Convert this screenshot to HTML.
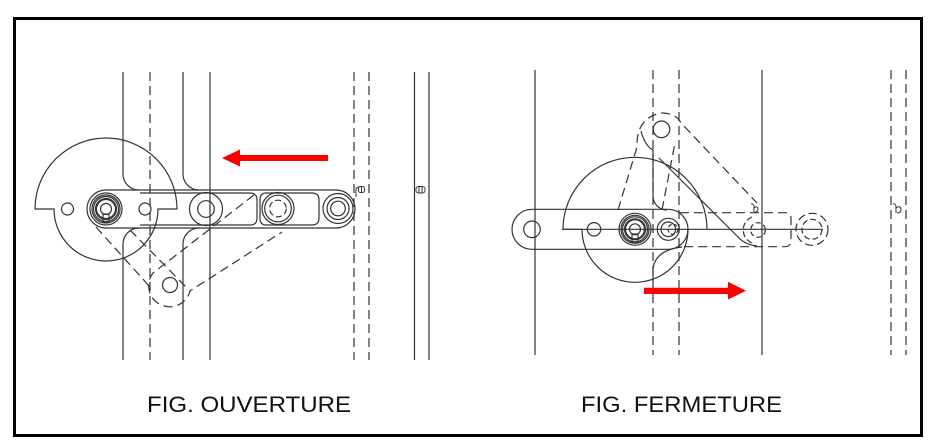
<!DOCTYPE html>
<html><head><meta charset="utf-8">
<style>html,body{margin:0;padding:0;background:#fff}svg{display:block}</style>
</head>
<body>
<svg width="939" height="441" viewBox="0 0 939 441" xmlns="http://www.w3.org/2000/svg">
<rect x="0" y="0" width="939" height="441" fill="#fff"/>
<rect x="14.5" y="18.5" width="907" height="417" fill="none" stroke="#000" stroke-width="3"/>

<!-- ===== LEFT FIGURE ===== -->
<g fill="none" stroke="#333" stroke-width="1.2">
  <path d="M123 72V174A16 16 0 0 0 139 190"/>
  <path d="M139 228A16 16 0 0 0 123 244V360"/>
  <path d="M183 72V174A16 16 0 0 0 199 190"/>
  <path d="M199 228A16 16 0 0 0 183 244V360"/>
  <path d="M210 72V360"/>
  <path d="M414.5 72V360M429 72V360"/>
  <!-- link -->
  <path d="M106 190H336A19 19 0 0 1 336 228H106A19 19 0 0 1 106 190Z"/>
  <path d="M140 193H250M140 225H250"/>
  <path d="M250 193Q257 193 257 200V218Q257 225 250 225"/>
  <path d="M266 193Q260 193 260 200V218Q260 225 266 225M266 193H312M266 225H312"/>
  <path d="M312 193Q319 193 319 200V218Q319 225 312 225"/>
  <!-- cam -->
  <path d="M35 209A71 71 0 0 1 177 209H158A52 52 0 0 1 54 209Z"/>
  <circle cx="67.5" cy="209" r="6"/>
  <circle cx="145" cy="209" r="6"/>
  <!-- main pivot -->
  <circle cx="106" cy="209" r="16"/>
  <circle cx="106" cy="209" r="14"/>
  <circle cx="106" cy="209" r="12.5"/>
  <circle cx="106" cy="209" r="10" stroke-width="2.2"/>
  <circle cx="106" cy="209" r="5.5"/>
  <rect x="103" y="214" width="6" height="8"/>
  <!-- rings -->
  <circle cx="206" cy="209" r="16.5"/>
  <circle cx="206" cy="209" r="8.3"/>
  <circle cx="278" cy="208.5" r="16"/>
  <circle cx="278" cy="208.5" r="13.3"/>
  <circle cx="278" cy="208.5" r="8.3" stroke-dasharray="6 3"/>
  <circle cx="338" cy="208.5" r="15"/>
  <circle cx="338" cy="208.5" r="11"/>
  <circle cx="338" cy="208.5" r="7.3"/>
  <!-- lower pivot -->
  <circle cx="170" cy="285" r="7.5"/>
  <!-- symbols -->
  <path d="M356 197V190Q356 187 359 187" stroke-width="1"/>
  <rect x="358.5" y="186.5" width="6" height="6" rx="2" stroke-width="1"/>
  <path d="M361.5 186.5V192.5" stroke-width="1"/>
  <rect x="416" y="186.5" width="9" height="6.5" rx="2.5" stroke-width="1"/>
  <path d="M419 186.5V193M422 186.5V193" stroke-width="1"/>
</g>
<g fill="none" stroke="#333" stroke-width="1.2" stroke-dasharray="9 5">
  <path d="M150 72V360M354 72V360M369 72V360"/>
  <path d="M254 195L153 273A21 21 0 1 0 190 291L282 232"/>
  <path d="M96 227L150 287M130 230L187 288"/>
</g>
<path fill="#f00" d="M222 158L240 149.5V155H328V161H240V166.5Z"/>

<!-- ===== RIGHT FIGURE ===== -->
<g fill="none" stroke="#333" stroke-width="1.2">
  <path d="M535 70V355M762 70V355"/>
  <path d="M641 131Q645 146 653 150V196A14 14 0 0 0 667 210"/>
  <path d="M682 247Q656 250 653 268V282"/>
  <!-- link -->
  <path d="M532 209.3H668A20 20 0 0 1 668 249.3H532A20 20 0 0 1 532 209.3Z"/>
  <circle cx="532" cy="229.3" r="8.3"/>
  <!-- cam -->
  <path d="M582 229.3H563A72 72 0 0 1 707 229.3"/>
  <path d="M582 229.3A53 53 0 0 0 688 229.3"/>
  <path d="M562 229.3H823"/>
  <!-- main pivot -->
  <circle cx="635" cy="229.3" r="16"/>
  <circle cx="635" cy="229.3" r="14"/>
  <circle cx="635" cy="229.3" r="12.5"/>
  <circle cx="635" cy="229.3" r="10" stroke-width="2.2"/>
  <circle cx="635" cy="229.3" r="5.5"/>
  <rect x="632" y="234" width="6" height="8"/>
  <circle cx="594" cy="229.3" r="6.7"/>
  <circle cx="668.3" cy="229.3" r="11"/>
  <circle cx="668.3" cy="229.3" r="7.3"/>
  <!-- upper pivot -->
  <circle cx="661.5" cy="129.3" r="8.3"/>
  <path d="M659 158L739 238Q746 245 757 246"/>
  <!-- symbols -->
  <path d="M751 204Q753 203 754 206V212M754 208Q757 205 758 209Q758 212 755 212" stroke-width="1"/>
  <path d="M893 204Q895 203 896 206V213M896 208Q900 205 901 209Q901 213 897 213" stroke-width="1"/>
</g>
<g fill="none" stroke="#333" stroke-width="1.2" stroke-dasharray="9 5">
  <path d="M653 70V355M679 70V355M891 70V355M906 70V355"/>
  <path d="M618 210L637 147Q636 118 661 113Q676 113 681 123L757 203"/>
  <path d="M662 210L675 143"/>
  <path d="M680 212.7H785Q791 212.7 791 219V240Q791 246.7 785 246.7H680"/>
  <circle cx="673" cy="229.3" r="5" stroke-dasharray="4 2"/>
  <circle cx="758" cy="230" r="7.3" stroke-dasharray="5 3"/>
  <path d="M752 217A14 14 0 0 0 752 243" stroke-dasharray="6 3"/>
  <circle cx="812" cy="229.3" r="16" stroke-dasharray="8 4"/>
  <circle cx="812" cy="229.3" r="10" stroke-dasharray="6 3"/>
</g>
<path fill="#f00" d="M644 287.7H728V281.7L746 290.7L728 299.5V294H644Z"/>

<!-- labels -->
<text x="147" y="412" font-family="Liberation Sans, sans-serif" font-size="22" fill="#111" textLength="204" lengthAdjust="spacingAndGlyphs">FIG. OUVERTURE</text>
<text x="581" y="412" font-family="Liberation Sans, sans-serif" font-size="22" fill="#111" textLength="201" lengthAdjust="spacingAndGlyphs">FIG. FERMETURE</text>
</svg>
</body></html>
